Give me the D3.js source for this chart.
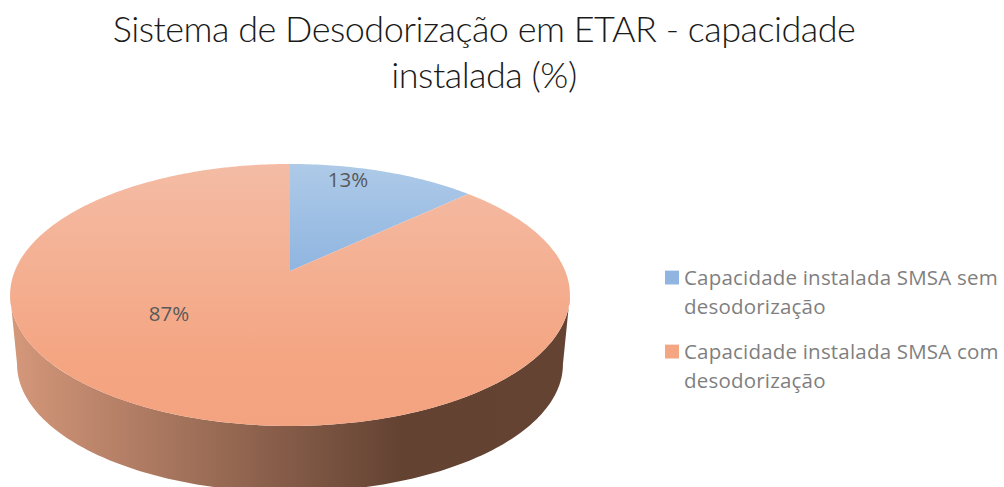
<!DOCTYPE html>
<html>
<head>
<meta charset="utf-8">
<script src="https://cdn.jsdelivr.net/npm/d3@7"></script>
<style>
  html, body { margin: 0; background: #fff; overflow: hidden; }
  svg { display: block; }
  .title { font-family: Lato, sans-serif; font-weight: 300; font-size: 36px; letter-spacing: -0.5px; fill: #1a1a1a; text-anchor: middle; }
  .pct { font-family: "Open Sans", sans-serif; font-size: 20.5px; fill: #595959; text-anchor: middle; }
  .legend text { font-family: "Open Sans", sans-serif; font-size: 20.5px; letter-spacing: 0.2px; fill: #7f7f7f; }
</style>
</head>
<body>
<svg></svg>
<script>
var categories = ["Capacidade instalada SMSA sem desodorização", "Capacidade instalada SMSA com desodorização"];
var values = [13, 87];
var titleLines = ["Sistema de Desodorização em ETAR - capacidade", "instalada (%)"];
var legendLines = [["Capacidade instalada SMSA sem", "desodorização"], ["Capacidade instalada SMSA com", "desodorização"]];

var width = 1004;
var height = 487;

// tilted disc: apex of the slices, half axes, perspective strength
var disc = { x: 290, y: 271, rx: 275.2, ry: 126.6, p: 0.183 };
var wall = { dy: 70, scale: 0.975 };
var labelAnchors = [[348, 187], [169, 321]];

// angle clockwise from 12 o'clock to a point on the screen
function project(a, r, scale, dy) {
  var w = 1 + disc.p * r * Math.cos(a);
  return [
    disc.x + scale * disc.rx * r * Math.sin(a) / w,
    disc.y + dy - scale * disc.ry * r * Math.cos(a) / w
  ];
}

function rim(a0, a1, scale, dy) {
  var n = Math.max(2, Math.ceil(Math.abs(a1 - a0) * 60));
  return d3.range(n + 1).map(i => project(a0 + (a1 - a0) * i / n, 1, scale, dy));
}

var line = d3.line();

var svg = d3.select("svg")
  .attr("width", width)
  .attr("height", height);

var defs = svg.append("defs");

function gradient(id, attrs, stops) {
  var g = defs.append("linearGradient")
    .attr("id", id)
    .attr("gradientUnits", "userSpaceOnUse");
  Object.keys(attrs).forEach(k => g.attr(k, attrs[k]));
  stops.forEach(s => g.append("stop").attr("offset", s[0]).attr("stop-color", s[1]));
}

gradient("blueTop", { x1: 0, x2: 0, y1: 164, y2: 271 }, [[0, "#aecae8"], [1, "#8fb5e0"]]);
gradient("orangeTop", { x1: 0, x2: 0, y1: 164, y2: 426 }, [[0, "#f4bca5"], [0.75, "#f4a582"], [1, "#f4a380"]]);
gradient("wallSide", { x1: 10, x2: 570, y1: 0, y2: 0 }, [[0, "#d5987b"], [0.7, "#634232"], [1, "#644333"]]);
gradient("blueKey", { x1: 0, x2: 0, y1: 0, y2: 1 }, [[0, "#aecae8"], [1, "#8fb5e0"]]);
gradient("orangeKey", { x1: 0, x2: 0, y1: 0, y2: 1 }, [[0, "#f4bca5"], [1, "#f4a582"]]);

// title
svg.selectAll("text.title")
  .data(titleLines)
  .enter()
  .append("text")
  .attr("class", "title")
  .attr("x", 484)
  .attr("y", (d, i) => 42 + i * 46)
  .text(d => d);

var pie = d3.pie().sort(null)(values);
var colours = d3.scaleOrdinal().domain(categories).range(["url(#blueTop)", "url(#orangeTop)"]);

// side wall, between the far left and far right of the two rims
var edge = Math.acos(-disc.p);
var front = rim(edge, 2 * Math.PI - edge, 1, 0);
var back = rim(2 * Math.PI - edge, edge, wall.scale, wall.dy);
svg.append("path")
  .attr("d", line(front.concat(back)) + "Z")
  .attr("fill", "url(#wallSide)");

// top of the disc
svg.selectAll("path.slice")
  .data(pie)
  .enter()
  .append("path")
  .attr("class", "slice")
  .attr("d", d => line([[disc.x, disc.y]].concat(rim(d.startAngle, d.endAngle, 1, 0))) + "Z")
  .attr("fill", (d, i) => colours(categories[i]));

svg.selectAll("text.pct")
  .data(values)
  .enter()
  .append("text")
  .attr("class", "pct")
  .attr("x", (d, i) => labelAnchors[i][0])
  .attr("y", (d, i) => labelAnchors[i][1])
  .text(d => d + "%");

// legend
var legend = svg.selectAll("g.legend")
  .data(legendLines)
  .enter()
  .append("g")
  .attr("class", "legend")
  .attr("transform", (d, i) => "translate(665," + (270.5 + i * 74) + ")");

legend.append("rect")
  .attr("width", 14)
  .attr("height", 14)
  .attr("fill", (d, i) => i ? "url(#orangeKey)" : "url(#blueKey)");

legend.selectAll("text")
  .data(d => d)
  .enter()
  .append("text")
  .attr("x", 19)
  .attr("y", (d, i) => 14 + i * 29)
  .text(d => d);
</script>
</body>
</html>
